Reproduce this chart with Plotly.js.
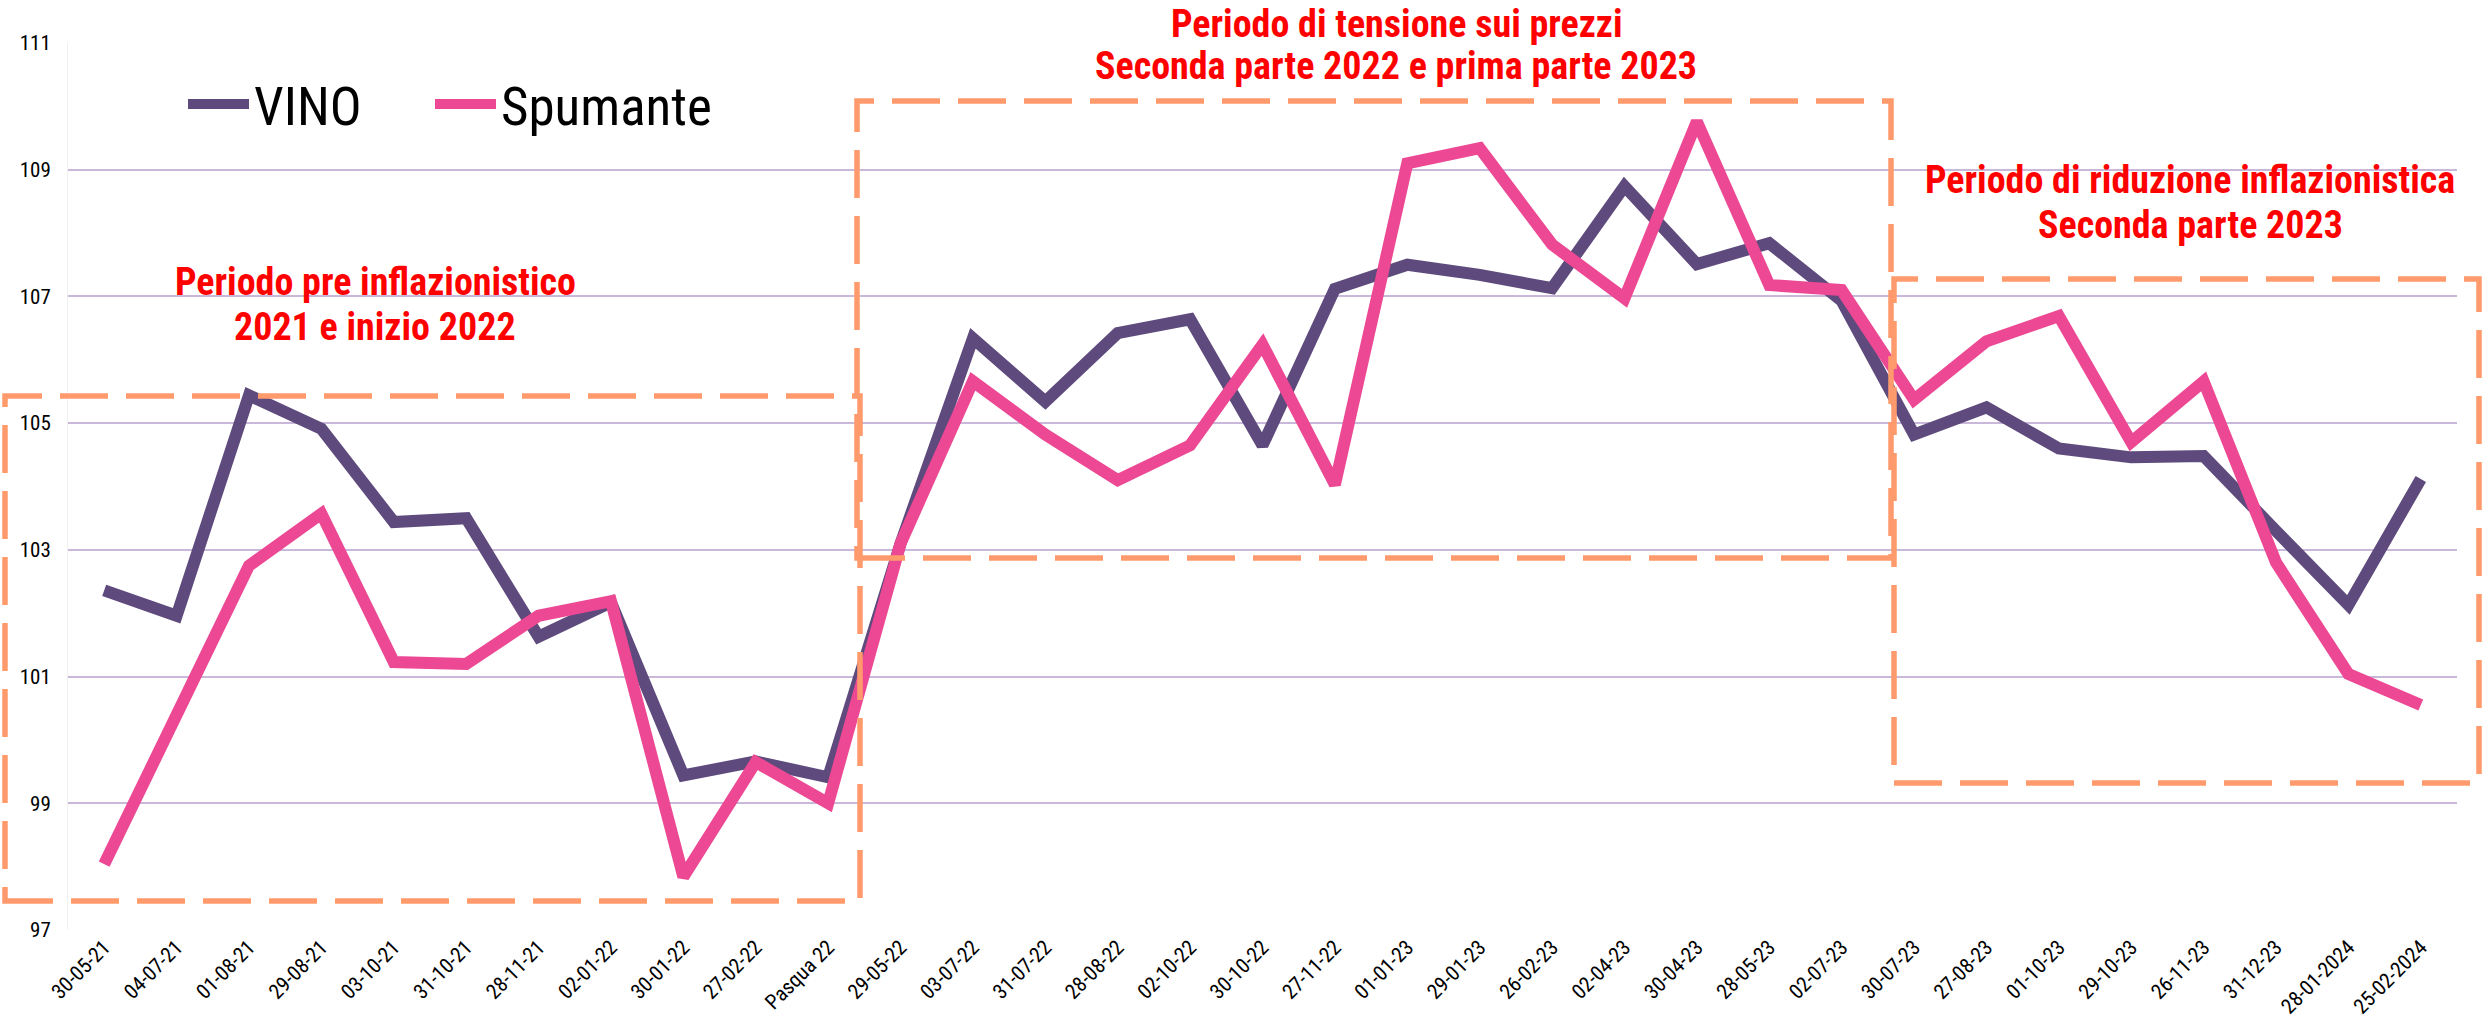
<!DOCTYPE html>
<html>
<head>
<meta charset="utf-8">
<script src="https://cdn.plot.ly/plotly-3.0.1.min.js"></script>
<style>
  html, body { margin: 0; padding: 0; background: #ffffff; }
  #chart { width: 2484px; height: 1019px; }
</style>
</head>
<body>
<div id="chart"></div>
<script>
// ---- data ----
const categories = ['30-05-21','04-07-21','01-08-21','29-08-21','03-10-21','31-10-21','28-11-21','02-01-22','30-01-22','27-02-22','Pasqua 22','29-05-22','03-07-22','31-07-22','28-08-22','02-10-22','30-10-22','27-11-22','01-01-23','29-01-23','26-02-23','02-04-23','30-04-23','28-05-23','02-07-23','30-07-23','27-08-23','01-10-23','29-10-23','26-11-23','31-12-23','28-01-2024','25-02-2024'];

const vino = [102.36, 101.96, 105.44, 104.91, 103.44, 103.50, 101.63, 102.17, 99.44, 99.66, 99.41, 103.10,
              106.34, 105.34, 106.42, 106.64, 104.65, 107.12, 107.50, 107.34, 107.13, 108.74, 107.51, 107.84,
              106.93, 104.82, 105.25, 104.60, 104.46, 104.48, 103.30, 102.13, 104.12];

const spumante = [98.04, 100.40, 102.75, 103.57, 101.23, 101.20, 101.96, 102.19, 97.84, 99.65, 99.00, 103.10,
                  105.66, 104.82, 104.10, 104.65, 106.24, 104.03, 109.10, 109.34, 107.82, 106.97, 109.76, 107.18,
                  107.10, 105.37, 106.29, 106.69, 104.70, 105.66, 102.80, 101.04, 100.55];

const seriesNames = ['VINO', 'Spumante'];

const periodLabels = [
  ['Periodo pre inflazionistico', '2021 e inizio 2022'],
  ['Periodo di tensione sui prezzi', 'Seconda parte 2022 e prima parte 2023'],
  ['Periodo di riduzione inflazionistica', 'Seconda parte 2023']
];

const yTicks = [97, 99, 101, 103, 105, 107, 109, 111];

// ---- layout helpers (pixel -> paper) ----
const W = 2484, H = 1019;
const M = { l: 68, r: 27, t: 43, b: 89 };
const PW = W - M.l - M.r, PH = H - M.t - M.b;
const px = x => (x - M.l) / PW;
const py = y => (H - M.b - y) / PH;

const NARROW = '"Liberation Sans Narrow", "Arial Narrow", "Roboto Condensed", "DejaVu Sans Condensed", sans-serif';
const COLORS = ['#5E4A7C', '#EC4894'];
const BOX = '#FF9A6C';

const traces = [
  { x: categories, y: vino, name: seriesNames[0], type: 'scatter', mode: 'lines', legend: 'legend',
    line: { color: COLORS[0], width: 12, shape: 'linear' } },
  { x: categories, y: spumante, name: seriesNames[1], type: 'scatter', mode: 'lines', legend: 'legend2',
    line: { color: COLORS[1], width: 12, shape: 'linear' } }
];

// dashed period boxes (pixel positions of the frames)
const boxes = [
  [5, 396, 860, 901],
  [857, 101, 1891, 558],
  [1894, 279, 2479, 783]
];
const shapes = boxes.map(b => ({
  type: 'rect', xref: 'paper', yref: 'paper',
  x0: px(b[0]), x1: px(b[2]), y0: py(b[3]), y1: py(b[1]),
  line: { color: BOX, width: 5.5, dash: '48px,18px' },
  fillcolor: 'rgba(0,0,0,0)', layer: 'above'
}));

// annotation centers (pixel) per line
const annPos = [
  [[375, 282], [375, 327]],
  [[1397, 24], [1396, 66]],
  [[2190, 180], [2190, 225]]
];
const annotations = [];
periodLabels.forEach((lines, i) => {
  lines.forEach((t, j) => {
    annotations.push({
      xref: 'paper', yref: 'paper',
      x: px(annPos[i][j][0]), y: py(annPos[i][j][1]),
      xanchor: 'center', yanchor: 'middle',
      text: '<b>' + t + '</b>', showarrow: false,
      font: { family: NARROW, size: 38, color: '#FF0000' }
    });
  });
});

const legendBase = {
  orientation: 'h', yanchor: 'middle', xanchor: 'left',
  font: { family: NARROW, size: 53, color: '#000000' },
  bgcolor: 'rgba(0,0,0,0)', itemwidth: 61
};

const layout = {
  width: W, height: H,
  margin: M,
  paper_bgcolor: '#ffffff', plot_bgcolor: '#ffffff',
  font: { family: NARROW, color: '#000000' },
  showlegend: true,
  legend: Object.assign({}, legendBase, { x: px(183), y: py(104) }),
  legend2: Object.assign({}, legendBase, { x: px(430), y: py(104) }),
  xaxis: {
    type: 'category', range: [-0.5, categories.length - 0.5],
    tickangle: -45, tickfont: { family: NARROW, size: 21, color: '#000' },
    showgrid: false, showline: false, zeroline: false, ticks: ''
  },
  yaxis: {
    range: [97, 111], tickvals: yTicks, ticktext: yTicks.map(String),
    tickfont: { family: NARROW, size: 21, color: '#000' },
    showgrid: true, gridcolor: '#C9B8D9', gridwidth: 2,
    zeroline: false, showline: true, linecolor: '#F0F0F0', linewidth: 1, ticks: '',
    ticklabelstandoff: 12
  },
  shapes: shapes,
  annotations: annotations
};

Plotly.newPlot('chart', traces, layout, { displayModeBar: false, staticPlot: true });
</script>
</body>
</html>
